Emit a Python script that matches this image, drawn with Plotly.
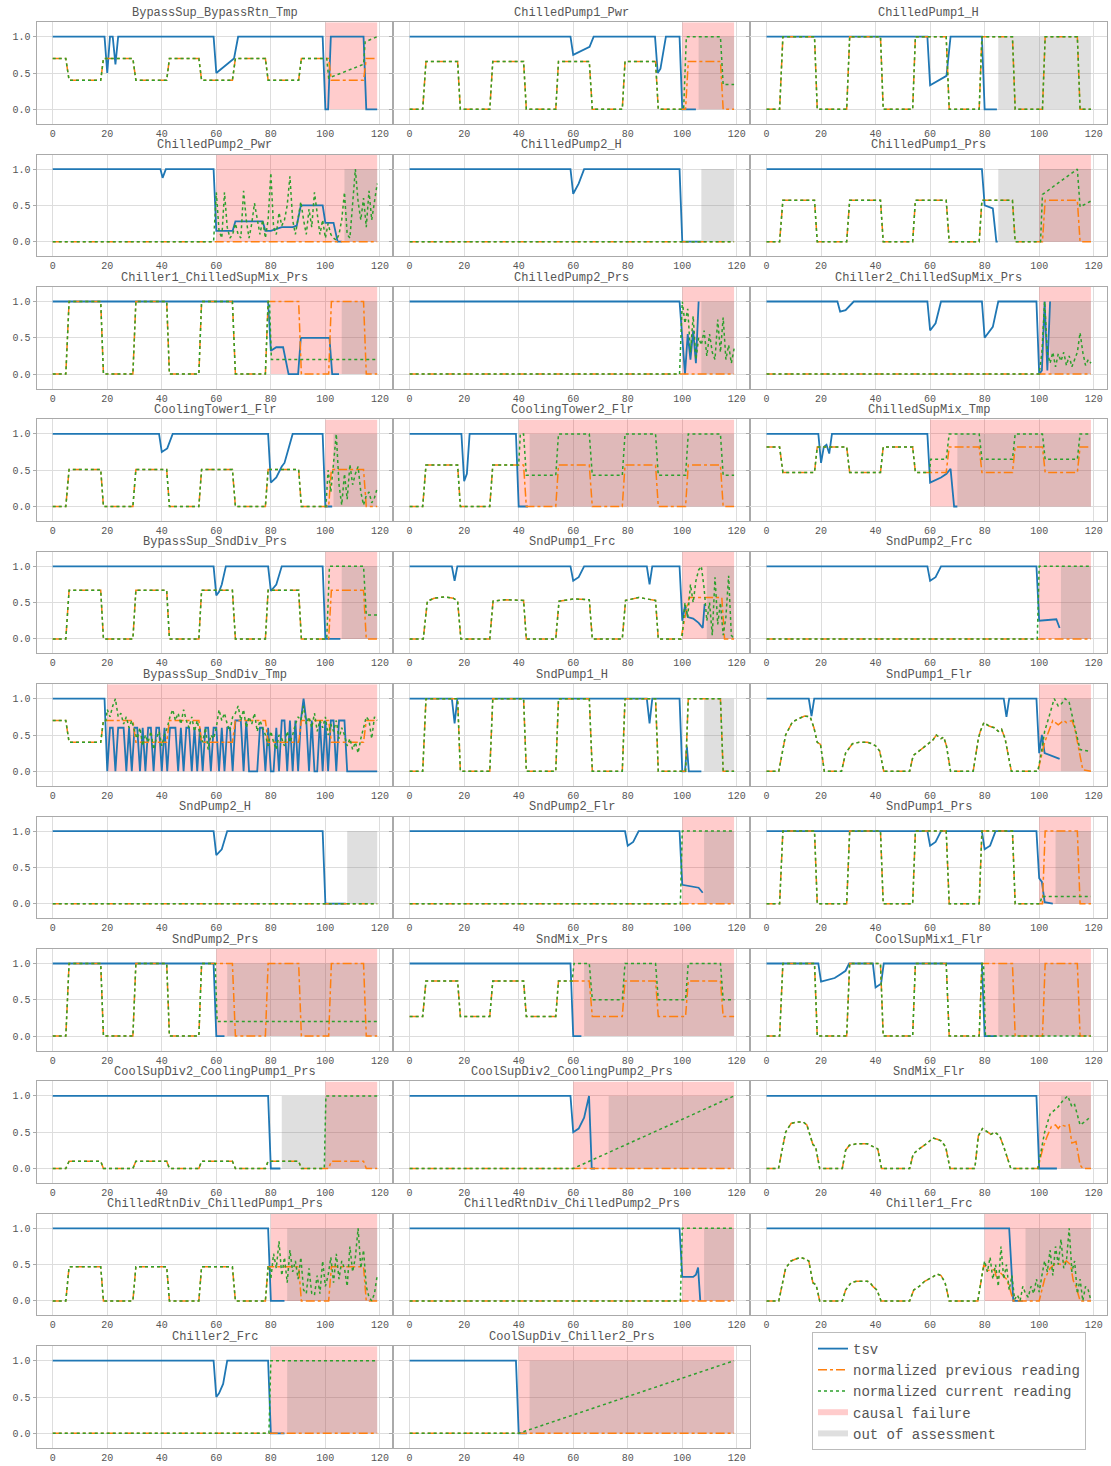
import plotly.graph_objects as go

W, H = 1111, 1466
FONT = "Liberation Mono, DejaVu Sans Mono, monospace"

# ---------------- data ----------------
# transition windows (start, end) of the periodic operating cycle
EDGE_A = [4.8, 17.6, 29.4, 41.8, 53.6, 65.9, 78.0, 90.2, 101.2, 114.0]
EDGE_B = [6.0, 18.6, 30.5, 42.8, 54.6, 67.0, 79.0, 91.2, 102.2, 115.0]
X_END = 119


def wave(levels, k0=0, x0=0, x1=X_END):
    """vertices of a stepped reading: levels between the read transition windows"""
    pts = [(x0, levels[0])]
    cur = levels[0]
    for j in range(len(levels) - 1):
        k = k0 + j
        if k >= len(EDGE_A):
            break
        a, b = EDGE_A[k], EDGE_B[k]
        if b > x1:
            break
        pts.append((a, levels[j]))
        pts.append((b, levels[j + 1]))
        cur = levels[j + 1]
    pts.append((x1, cur))
    return pts


def seq(x_start, values):
    return list(zip(range(x_start, x_start + len(values)), values))


ZERO = [(0, 0), (119, 0)]

# 1 BypassSup_BypassRtn_Tmp
L1 = [.7, .4, .7, .4, .7, .4, .7, .4, .7, .4, .7]
tsv1 = [(0, 1), (19, 1), (20, .5), (21, 1), (22, 1), (23, .62), (24, 1), (59, 1), (60, .5), (66.5, .7), (68, 1),
        (99, 1), (100, 0), (101, 0), (102, 1), (114, 1), (115, 0), (119, 0)]
prev1 = wave(L1)
cur1 = wave(L1, x1=100.5) + [(101.2, .43), (114, .62), (114.6, .93), (119, 1.0)]

# 2 ChilledPump1_Pwr
L2 = [0, .66, 0, .66, 0, .66, 0, .66, 0, .66, 0]
tsv2 = [(0, 1), (59, 1), (60, .75), (66, .86), (67.5, 1), (90, 1), (91, .5), (92, .56), (94, 1), (99, 1), (100, 0), (105, 0)]
prev2 = wave(L2)
cur2 = wave(L2, x1=100.5) + [(101.5, 1.0), (114, 1.0), (115, .34), (119, .34)]

# 3 ChilledPump1_H
L3 = [0, 1, 0, 1, 0, 1, 0, 1, 0, 1, 0]
tsv3 = [(0, 1), (59, 1), (60, .33), (66, .46), (67.5, 1), (79, 1), (80, 0), (84.5, 0)]
prev3 = wave(L3)
cur3 = wave(L3)

# 4 ChilledPump2_Pwr
tsv4 = [(0, 1), (39.5, 1), (40.3, .88), (41.5, 1), (59, 1), (60, .15), (66, .15), (67, .28), (77, .28), (78, .15),
        (80, .15), (84, .2), (88, .2), (89.5, .22), (91, .5), (99, .5), (100, .26), (103, .26), (104.5, 0), (106, 0)]
prev4 = ZERO
cur4 = [(0, 0), (59, 0)] + seq(60, [.68, .15, .05, .68, .2, .05, .1, .25, .1, .05, .7, .3, .05, .25, .53, .3, .1, .3,
                                    .05, .3, .95, .2, .1, .4, .22, .3, .5, .9, .3, .1, .3, .55, .3, .1, .45, .2, .68,
                                    .4, .1, .3, .05, .25, .1, .05, .02, .1, .3, .68, .1, .05, .6, 1.0, .55, .3, .6,
                                    .2, .7, .3, .55, .8])

# 5 ChilledPump2_H
tsv5 = [(0, 1), (59, 1), (60, .66), (62, .8), (64, 1), (99, 1), (100, 0), (107, 0)]
prev5 = ZERO
cur5 = ZERO

# 6 ChilledPump1_Prs
L6 = [0, .57, 0, .57, 0, .57, 0, .57, 0, .57, 0]
tsv6 = [(0, 1), (79, 1), (80, .5), (82, .48), (83, .46), (84.3, 0), (84.8, 0)]
prev6 = wave(L6)
cur6 = wave(L6, x1=100.5) + [(101.2, .65), (114, 1.0), (115, .48), (119, .56)]

# 7 Chiller1_ChilledSupMix_Prs
L7 = [0, 1, 0, 1, 0, 1, 0, 1, 0, 1, 0]
tsv7 = [(0, 1), (79, 1), (80, .32), (82, .37), (84.5, .37), (86.5, 0), (90, 0), (91, .5), (101.5, .5), (102.5, 0), (105, 0)]
prev7 = wave(L7)
cur7 = wave(L7, x1=79.5) + [(80.2, .2), (119, .2)]

# 8 ChilledPump2_Prs
tsv8 = [(0, 1), (99, 1), (100, .5), (101, 0), (102, .55), (103, .2), (104, .6), (105, .15), (106, 1.0)]
prev8 = ZERO
cur8 = [(0, 0), (99, 0)] + seq(100, [1.0, .7, .9, .3, .8, .2, .5, .4, .6, .25, .55, .3, .2, .75, .3, .78, .2, .4, .15, .35])

# 9 Chiller2_ChilledSupMix_Prs
tsv9 = [(0, 1), (26, 1), (27, .86), (29, .88), (32, 1), (59, 1), (60, .6), (62, .7), (64, 1), (79, 1), (80, .5),
        (83, .65), (85, 1), (99, 1), (100, 0), (101, .05), (102, 1), (103, .05), (104, 1.0)]
prev9 = ZERO
cur9 = [(0, 0)] + seq(100, [0, .3, 1.0, .3, .15, .3, .1, .28, .18, .3, .12, .25, .1, .2, .3, .57, .3, .12, .2, .15])

# 10 CoolingTower1_Flr
L10 = [0, .51, 0, .51, 0, .51, 0, .51, 0, .51, 0]
tsv10 = [(0, 1), (39, 1), (40, .75), (42, .8), (44, 1), (79, 1), (80, .33), (82, .4), (84, .55), (85, .6), (86.5, .8),
         (88, 1), (99, 1), (100, 0), (102.5, 0)]
prev10 = wave(L10)
cur10 = wave(L10, x1=100.2) + seq(101, [.5, .2, .6, 1.0, .3, .02, .45, .1, .58, .3, .45, .55, .2, .02, .15, .2, .05, .12, .25])

# 11 CoolingTower2_Flr
L11 = [0, .57, 0, .57, 0, .57, 0, .57, 0, .57, 0]
tsv11 = [(0, 1), (19, 1), (20, .35), (21, .45), (22, 1), (39, 1), (40, 0), (43.4, 0)]
prev11 = wave(L11)
cur11 = wave([0, .57, 0, .57], x1=40) + [(40.6, 1.0)] + wave([1, .43, 1, .43, 1, .43, 1, .43], k0=3, x0=41)

# 12 ChilledSupMix_Tmp
L12 = [.82, .47, .82, .47, .82, .47, .82, .47, .82, .47, .82]
tsv12 = [(0, 1), (19, 1), (20, .6), (21, .82), (22, .85), (23, .73), (24, 1), (59, 1), (60, .33), (64, .4), (66, .45),
         (67.5, .52), (68.8, 0), (70, 0)]
prev12 = wave(L12)
cur12 = wave(L12[:6], x1=59.8) + [(60.2, .65)] + wave([.65, 1, .65, 1, .65, 1], k0=5, x0=60.2)

# 13 BypassSup_SndDiv_Prs
L13 = [0, .67, 0, .67, 0, .67, 0, .67, 0, .67, 0]
tsv13 = [(0, 1), (59, 1), (60, .6), (61, .65), (62, .75), (63.5, 1), (79, 1), (80, .66), (82, .75), (84, 1), (99, 1),
         (100, 0), (105.5, 0)]
prev13 = wave(L13)
cur13 = wave(L13, x1=100.5) + [(101.5, 1.0), (114, 1.0), (115, .33), (119, .33)]

# 14 SndPump1_Frc
hump14 = [(0, 0), (5, 0), (6.5, .52), (9, .56), (13, .58), (16, .56), (17.6, .52), (18.8, 0), (29.4, 0), (30.6, .52),
          (35, .54), (41.8, .53), (42.8, 0), (53.6, 0), (54.8, .52), (60, .55), (65.9, .54), (67, 0), (78, 0),
          (79.2, .53), (84, .57), (88, .55), (90.2, .53), (91.2, 0), (99.5, 0)]
tsv14 = [(0, 1), (15.5, 1), (16.5, .8), (17.5, 1), (59, 1), (60, .8), (62, .85), (64, 1), (87, 1), (88, .75), (89, 1),
         (99, 1), (100, .25), (101, .45), (102, .3), (104, .28), (106, .22), (107.5, .15), (108.2, .48)]
prev14 = hump14 + [(101, .3), (102.5, .57), (114.5, .57), (115.5, 0), (119, 0)]
cur14 = hump14 + seq(100, [.05, .5, .3, .75, .5, .8, .95, 1.0, .7, .25, .5, .05, .85, .2, .5, .05, .3, .87, .05, 0])

# 15 SndPump2_Frc
tsv15 = [(0, 1), (59, 1), (60, .8), (62, .85), (64, 1), (99, 1), (100, .25), (105.5, .26), (106.3, .27), (107.5, .15)]
prev15 = ZERO
cur15 = [(0, 0), (99.3, 0), (100, 1.0), (119, 1.0)]

# 16 BypassSup_SndDiv_Tmp
tsv16 = [(0, 1), (19, 1)] + seq(20, [0, .6, .6, 0, .6, .6, .6, 0, .6, 0, .6, .6, 0, .6, 0, .6, .6, 0, .6, .6, 0, .6, 0,
                                     .6, .6, .6, 0, .6, 0, .6, .6, 0, .6, 0, .6, 0, .6, .6, 0, .6, .6, 0, .6, 0, .6,
                                     .6, 0, .7, .7, .7, 0, .7, 0, 0, 0, 0, .6, .6, 0, .6, 0, 0, .6, 0, .7, .7, 0, .7,
                                     0, .7, 0, .7, 1.0, .7, 0, .7, 0, 0, .7, 0, .7, 0, .7, .7, 0, .7, .7, .7, 0]) + [(119, 0)]
L16 = [.7, .4, .7, .4, .7, .4, .7, .4, .7, .4, .7]
prev16 = wave(L16)
cur16 = wave(L16, x1=19.5) + seq(20, [.85, .75, .9, 1.0, .75, .8, .65, .75, .6, .7, .55, .45, .6, .35, .5, .4, .55, .3,
                                      .45, .55, .35, .5, .6, .75, .85, .7, .8, .65, .85, .7, .6, .75, .55, .7, .5, .4,
                                      .6, .3, .5, .45, .6, .85, .7, .8, .65, .55, .75, .8, .9, .7, .85, .6, .75, .65,
                                      .8, .55, .7, .6, .5, .35, .55, .4, .3, .5, .45, .35, .55, .4, .5, .65, .75, .7,
                                      .9, .65, .75, .6, .8, .55, .7, .6, .75, .5, .65, .55, .7, .45, .6, .5, .35, .45,
                                      .3, .4, .25, .45, .6, .75, .7, .45, .75, .7])

# 17 SndPump1_H
L17 = [0, 1, 0, 1, 0, 1, 0, 1, 0, 1, 0]
tsv17 = [(0, 1), (15.5, 1), (16.5, .66), (17.5, 1), (87, 1), (88, .66), (89, 1), (99, 1), (100, 0), (101, 0),
         (101.7, .34), (102.4, 0), (107, 0)]
prev17 = wave(L17)
cur17 = wave(L17)

# 18 SndPump1_Flr
hump18 = [(0, 0), (4.5, 0), (7, .5), (9.5, .68), (12, .73), (14, .76), (16, .75), (17.4, .6), (18.6, .4), (19.8, .37),
          (21.2, 0), (27.5, 0), (29, .25), (31.5, .38), (34, .4), (37, .4), (38.5, .38), (40, .35), (41.5, .28),
          (43, 0), (52.5, 0), (53.8, .22), (56, .28), (59, .37), (61, .43), (62.3, .5), (64, .45), (65, .47),
          (66, .35), (67.5, 0), (75.8, 0), (77.7, .45), (78.4, .55), (79.7, .67), (81.8, .62), (83.6, .6), (85, .55),
          (86.2, .58), (87.5, .45), (89.8, 0), (99.5, 0)]
tsv18 = [(0, 1), (15.5, 1), (16.5, .76), (17.5, 1), (87, 1), (88, .75), (89, 1), (99, 1), (100, .25), (101, .5),
         (102, .25), (104, .22), (106, .2), (107.5, .17)]
prev18 = hump18 + [(102, .4), (104, .62), (105, .7), (107, .64), (109, .7), (110, .67), (112, .7), (113, .6),
                   (114.5, .3), (116, .02), (119, 0)]
cur18 = hump18 + [(101, .3), (102, .55), (104, .8), (105.5, 1.0), (107, .9), (108, .92), (109.5, 1.0), (111, .95),
                  (112.5, .7), (114, .45), (115, .3), (119, .27)]

# 19 SndPump2_H
tsv19 = [(0, 1), (59, 1), (60, .67), (62, .75), (64, 1), (99, 1), (100, 0), (107.5, 0)]
prev19 = ZERO
cur19 = ZERO

# 20 SndPump2_Flr
tsv20 = [(0, 1), (79, 1), (80, .8), (82, .85), (84, 1), (99, 1), (100, .26), (104, .24), (106, .22), (107.5, .15)]
prev20 = ZERO
cur20 = [(0, 0), (99.3, 0), (100, 1.0), (119, 1.0)]

# 21 SndPump1_Prs
L21 = [0, 1, 0, 1, 0, 1, 0, 1, 0, 1, 0]
tsv21 = [(0, 1), (59, 1), (60, .8), (62, .85), (64, 1), (79, 1), (80, .75), (82, .8), (84, 1), (99, 1), (100, .35),
         (101, .3), (102, .02), (105, 0)]
prev21 = wave(L21)
cur21 = wave(L21, x1=100.3) + [(101, .1), (119, .1)]

# 22 SndPump2_Prs
L22 = [0, 1, 0, 1, 0, 1, 0, 1, 0, 1, 0]
tsv22 = [(0, 1), (59, 1), (60, 0), (63, 0)]
prev22 = wave(L22)
cur22 = wave(L22, x1=59.6) + [(60.3, .2), (119, .2)]

# 23 SndMix_Prs
L23 = [.27, .76, .27, .76, .27, .76, .27, .76, .27, .76, .27]
tsv23 = [(0, 1), (59, 1), (60, 0), (63, 0)]
prev23 = wave(L23)
cur23 = wave(L23, x1=59.6) + [(60.3, 1.0)] + wave([1, .5, 1, .5, 1, .5], k0=5, x0=60.3)

# 24 CoolSupMix1_Flr
L24 = [0, 1, 0, 1, 0, 1, 0, 1, 0, 1, 0]
tsv24 = [(0, 1), (19, 1), (20, .75), (22, .77), (25, .8), (27, .85), (29, .9), (30.3, 1), (39, 1), (40, .67),
         (42, .72), (43, 1), (79, 1), (80, 0), (84.4, 0)]
prev24 = wave(L24)
cur24 = wave(L24, x1=79.6) + [(80.3, 0), (119, 0)]

# 25 CoolSupDiv2_CoolingPump1_Prs
L25 = [0, .1, 0, .1, 0, .1, 0, .1, 0, .1, 0]
tsv25 = [(0, 1), (79, 1), (80, 0), (83.5, 0)]
prev25 = wave(L25)
cur25 = wave(L25, x1=99.6) + [(100.2, 1.0), (119, 1.0)]

# 26 CoolSupDiv2_CoolingPump2_Prs
tsv26 = [(0, 1), (59, 1), (60, .5), (62, .55), (64, .7), (65.3, .95), (65.8, 1.0), (66.8, 0), (68, 0)]
prev26 = ZERO
cur26 = [(0, 0), (60, 0), (119, 1.0)]

# 27 SndMix_Flr
hump27 = [(0, 0), (4.4, 0), (7, .5), (9, .62), (11, .64), (13.5, .64), (14.8, .6), (17, .33), (18, .3), (19.5, 0),
          (27.8, 0), (29, .25), (30.4, .32), (33, .34), (37, .34), (39, .3), (40.8, .27), (42.2, 0), (52.5, 0),
          (53.8, .2), (56, .27), (59, .35), (61, .42), (62.9, .4), (64, .38), (65.7, .3), (67.3, 0), (76.4, 0),
          (77.7, .45), (79.2, .55), (81, .5), (82.3, .47), (83.6, .5), (85.5, .45), (87, .3), (89.6, 0), (99.5, 0)]
tsv27 = [(0, 1), (99, 1), (100, 0), (106.5, 0)]
prev27 = hump27 + [(101.5, .3), (103, .45), (104.5, .58), (106, .6), (107, .55), (108, .6), (110, .58), (111, .6),
                   (112, .35), (113.5, .37), (115, .05), (116, 0), (119, 0)]
cur27 = hump27 + [(102, .5), (104, .75), (106, .82), (107, .85), (109, .95), (110.5, 1.0), (112, .85), (113, .88),
                  (115, .6), (117, .65), (119, .72)]

# 28 ChilledRtnDiv_ChilledPump1_Prs
L28 = [0, .47, 0, .47, 0, .47, 0, .47, 0, .47, 0]
tsv28 = [(0, 1), (79, 1), (80, 0), (85, 0)]
prev28 = wave(L28)
cur28 = wave(L28, x1=79.6) + seq(80, [.3, .65, .45, .82, .35, .6, .25, .7, .4, .55, .3, .6, .15, .1, .45, .1, .08, .35,
                                      .1, .55, .2, .35, .6, .25, .65, .3, .55, .45, .2, .75, .4, .6, 1.0, .45, .7, .2,
                                      .05, 0, .1, .35])

# 29 ChilledRtnDiv_ChilledPump2_Prs
tsv29 = [(0, 1), (99, 1), (100, .33), (104, .33), (105, .36), (105.8, .46), (106.6, 0)]
prev29 = ZERO
cur29 = [(0, 0), (99.3, 0), (100, 1.0), (119, 1.0)]

# 30 Chiller1_Frc
hump30 = [(0, 0), (4.5, 0), (7, .45), (9, .55), (11, .58), (12.5, .6), (14, .58), (15.5, .55), (17, .25), (18.2, .22),
          (19.5, 0), (27.8, 0), (29, .15), (31, .25), (33, .27), (37, .27), (38, .25), (39, .2), (40.5, .15), (42, 0),
          (52.5, 0), (54, .15), (56, .2), (58, .27), (61, .33), (62.5, .37), (64, .35), (65.5, .25), (67, 0), (77.5, 0)]
tsv30 = [(0, 1), (89, 1), (90.5, 0), (94, 0)]
prev30 = hump30 + [(79.7, .5), (81, .42), (83.6, .43), (84.5, .3), (86, .38), (88, .3), (89, .2), (90.5, 0), (100, 0),
                   (102, .3), (104, .45), (106, .52), (108, .5), (110, .55), (111.5, .5), (112.5, .28), (113.5, .2),
                   (115, 0), (119, 0)]
cur30 = hump30 + seq(79, [.35, .55, .4, .6, .3, .5, .2, .75, .3, .5, .15, .35, .02, .08, 0, .2, .1, .05, .2, .1, .3,
                          .12, .35, .55, .4, .7, .35, .75, .5, .85, .45, .55, 1.0, .4, .55, .1, .3, 0, .2, .15, 0])

# 31 Chiller2_Frc
tsv31 = [(0, 1), (59, 1), (60, .5), (61, .55), (62.5, .68), (64, 1), (79, 1), (80, 0), (85, 0)]
prev31 = ZERO
cur31 = [(0, 0), (79.3, 0), (80, 1.0), (119, 1.0)]

# 32 CoolSupDiv_Chiller2_Prs
tsv32 = [(0, 1), (39, 1), (40, 0), (43, 0)]
prev32 = ZERO
cur32 = [(0, 0), (40, 0), (119, 1.0)]

TITLES = ["BypassSup_BypassRtn_Tmp", "ChilledPump1_Pwr", "ChilledPump1_H",
          "ChilledPump2_Pwr", "ChilledPump2_H", "ChilledPump1_Prs",
          "Chiller1_ChilledSupMix_Prs", "ChilledPump2_Prs", "Chiller2_ChilledSupMix_Prs",
          "CoolingTower1_Flr", "CoolingTower2_Flr", "ChilledSupMix_Tmp",
          "BypassSup_SndDiv_Prs", "SndPump1_Frc", "SndPump2_Frc",
          "BypassSup_SndDiv_Tmp", "SndPump1_H", "SndPump1_Flr",
          "SndPump2_H", "SndPump2_Flr", "SndPump1_Prs",
          "SndPump2_Prs", "SndMix_Prs", "CoolSupMix1_Flr",
          "CoolSupDiv2_CoolingPump1_Prs", "CoolSupDiv2_CoolingPump2_Prs", "SndMix_Flr",
          "ChilledRtnDiv_ChilledPump1_Prs", "ChilledRtnDiv_ChilledPump2_Prs", "Chiller1_Frc",
          "Chiller2_Frc", "CoolSupDiv_Chiller2_Prs"]

TSV = [tsv1, tsv2, tsv3, tsv4, tsv5, tsv6, tsv7, tsv8, tsv9, tsv10, tsv11, tsv12, tsv13, tsv14, tsv15, tsv16,
       tsv17, tsv18, tsv19, tsv20, tsv21, tsv22, tsv23, tsv24, tsv25, tsv26, tsv27, tsv28, tsv29, tsv30, tsv31, tsv32]
PREV = [prev1, prev2, prev3, prev4, prev5, prev6, prev7, prev8, prev9, prev10, prev11, prev12, prev13, prev14, prev15,
        prev16, prev17, prev18, prev19, prev20, prev21, prev22, prev23, prev24, prev25, prev26, prev27, prev28, prev29,
        prev30, prev31, prev32]
CUR = [cur1, cur2, cur3, cur4, cur5, cur6, cur7, cur8, cur9, cur10, cur11, cur12, cur13, cur14, cur15, cur16, cur17,
       cur18, cur19, cur20, cur21, cur22, cur23, cur24, cur25, cur26, cur27, cur28, cur29, cur30, cur31, cur32]
CAUSAL = [(100, 119), (100, 119), None, (60, 119), None, (100, 119),
          (80, 119), (100, 119), (100, 119), (100, 119), (40, 119), (60, 119),
          (100, 119), (100, 119), (100, 119), (20, 119), None, (100, 119),
          None, (100, 119), (100, 119), (60, 119), (60, 119), (80, 119),
          (100, 119), (60, 119), (100, 119), (80, 119), (100, 119), (80, 119),
          (80, 119), (40, 119)]
OUT = [None, (106, 119), (85, 119), (107, 119), (107, 119), (85, 119),
       (106, 119), (107, 119), (104, 119), (103, 119), (44, 119), (70, 119),
       (106, 119), (109, 119), (108, 119), None, (108, 119), (108, 119),
       (108, 119), (108, 119), (106, 119), (64, 119), (64, 119), (85, 119),
       (84, 119), (73, 119), (108, 119), (86, 119), (108, 119), (95, 119),
       (86, 119), (44, 119)]

XTICKS = [0, 20, 40, 60, 80, 100, 120]
YTICKS = [0, 0.5, 1.0]
YTICKTEXT = ["0.0", "0.5", "1.0"]

# ---------------- styling / layout ----------------
C_TSV, C_PREV, C_CUR = "#1f77b4", "#ff7f0e", "#2ca02c"
C_CAUSAL = "rgba(255,0,0,0.2)"
C_OUT = "rgba(128,128,128,0.25)"
XR = [-5.95, 124.95]
YR = [-0.2, 1.2]

fig = go.Figure()
layout = dict(width=W, height=H, margin=dict(l=0, r=0, t=0, b=0),
              paper_bgcolor="white", plot_bgcolor="white", showlegend=True)
shapes, annotations = [], []

for p in range(len(TITLES)):
    r, c = divmod(p, 3)
    n = p + 1
    xs = "" if n == 1 else str(n)
    x0 = 36.5 + 356.9 * c
    x1 = x0 + 356.9
    y0px = 109.3 + 132.4 * r
    top = y0px - 87.1
    bot = y0px + 14.5
    layout["xaxis" + xs] = dict(domain=[x0 / W, x1 / W], range=XR, anchor="y" + xs, tickvals=XTICKS,
                                showgrid=True, gridcolor="#dddddd", gridwidth=1, zeroline=False,
                                showline=True, linecolor="#aaaaaa", mirror=True, ticks="",
                                tickfont=dict(family=FONT, size=10, color="#555555"))
    layout["yaxis" + xs] = dict(domain=[1 - bot / H, 1 - top / H], range=YR, anchor="x" + xs, tickvals=YTICKS,
                                ticktext=YTICKTEXT, showticklabels=(c == 0), showgrid=True, gridcolor="#dddddd",
                                gridwidth=1, zeroline=False, showline=True, linecolor="#aaaaaa", mirror=True,
                                ticks="outside", ticklen=3, tickcolor="#aaaaaa",
                                tickfont=dict(family=FONT, size=10, color="#555555"))
    if CAUSAL[p]:
        a, b = CAUSAL[p]
        shapes.append(dict(type="rect", xref="x" + xs, yref="y" + xs, x0=a, x1=b, y0=0, y1=1.2,
                           fillcolor=C_CAUSAL, line=dict(width=0), layer="between"))
    if OUT[p]:
        a, b = OUT[p]
        shapes.append(dict(type="rect", xref="x" + xs, yref="y" + xs, x0=a, x1=b, y0=0, y1=1.0,
                           fillcolor=C_OUT, line=dict(width=0), layer="between"))
    for pts, col, dash, wdt in [(TSV[p], C_TSV, "solid", 1.8), (PREV[p], C_PREV, "dashdot", 1.5),
                                (CUR[p], C_CUR, "dot", 1.5)]:
        fig.add_trace(go.Scatter(x=[q[0] for q in pts], y=[q[1] for q in pts], mode="lines",
                                 line=dict(color=col, width=wdt, dash=dash), showlegend=False,
                                 hoverinfo="skip", xaxis="x" + xs, yaxis="y" + xs))
    annotations.append(dict(text=TITLES[p], xref="paper", yref="paper", x=(x0 + x1) / 2 / W,
                            y=1 - (top - 9.5) / H, xanchor="center", yanchor="middle", showarrow=False,
                            font=dict(family=FONT, size=12, color="#555555")))

# legend entries
fig.add_trace(go.Scatter(x=[None], y=[None], mode="lines", name="tsv", line=dict(color=C_TSV, width=1.8)))
fig.add_trace(go.Scatter(x=[None], y=[None], mode="lines", name="normalized previous reading",
                         line=dict(color=C_PREV, width=1.5, dash="dashdot")))
fig.add_trace(go.Scatter(x=[None], y=[None], mode="lines", name="normalized current reading",
                         line=dict(color=C_CUR, width=1.5, dash="dot")))
fig.add_trace(go.Scatter(x=[None], y=[None], mode="none", fill="toself", fillcolor=C_CAUSAL, name="causal failure"))
fig.add_trace(go.Scatter(x=[None], y=[None], mode="none", fill="toself", fillcolor=C_OUT, name="out of assessment"))

layout["shapes"] = shapes
layout["annotations"] = annotations
layout["legend"] = dict(x=812 / W, y=1 - 1332 / H, xanchor="left", yanchor="top", bgcolor="white",
                        bordercolor="#bbbbbb", borderwidth=1, font=dict(family=FONT, size=14, color="#555555"),
                        tracegroupgap=0)
fig.update_layout(**layout)
fig.write_html("out.html", config={"displayModeBar": False, "staticPlot": True},
               post_script="document.body.style.margin='0';document.body.style.padding='0';"
                           "document.documentElement.style.overflow='hidden';")
